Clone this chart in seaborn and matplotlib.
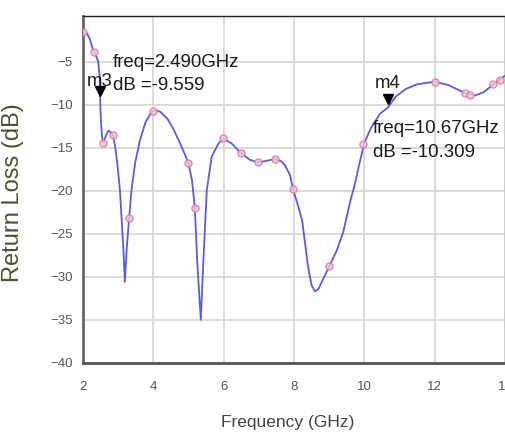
import matplotlib
matplotlib.use("Agg")
import matplotlib.pyplot as plt
import seaborn as sns
import pandas as pd
from matplotlib.ticker import MultipleLocator

# ---------------- data ----------------
freq_ghz = [2.00, 2.12, 2.20, 2.28, 2.36, 2.43, 2.47, 2.49, 2.51, 2.55, 2.58,
            2.65, 2.72, 2.80, 2.86, 2.92, 2.98, 3.05, 3.10, 3.15, 3.19, 3.24,
            3.31, 3.38, 3.48, 3.62, 3.78, 3.95, 4.05, 4.20, 4.40, 4.57, 4.72,
            4.85, 5.00, 5.10, 5.18, 5.25, 5.35, 5.42, 5.52, 5.66, 5.85, 5.99,
            6.23, 6.49, 6.75, 6.99, 7.22, 7.46, 7.62, 7.74, 7.89, 7.97, 8.10,
            8.23, 8.40, 8.50, 8.60, 8.70, 8.80, 9.00, 9.22, 9.40, 9.60, 9.70,
            9.85, 10.00, 10.20, 10.45, 10.67, 10.90, 11.20, 11.50, 12.00,
            12.40, 12.70, 12.90, 13.15, 13.40, 13.70, 13.90, 14.00]
return_loss_db = [-1.7, -1.7, -2.4, -3.5, -4.2, -4.9, -6.5, -9.56, -12.0, -14.0, -14.4,
                  -13.6, -13.0, -13.2, -13.6, -15.0, -17.0, -19.9, -23.4, -26.9, -30.6, -26.9,
                  -23.2, -19.9, -16.8, -14.1, -12.0, -10.8, -10.6, -10.8, -11.6, -12.8, -14.1,
                  -15.3, -16.8, -18.8, -22.0, -28.4, -35.0, -28.4, -19.9, -16.0, -14.5, -13.9,
                  -14.5, -15.6, -16.4, -16.7, -16.5, -16.3, -16.5, -17.0, -18.2, -19.8, -21.5,
                  -23.4, -28.8, -31.0, -31.7, -31.4, -30.5, -28.8, -26.9, -24.8, -21.2, -19.7,
                  -17.0, -14.4, -12.6, -11.0, -10.3, -9.0, -8.1, -7.6, -7.3,
                  -7.7, -8.3, -8.7, -8.9, -8.5, -7.5, -6.9, -6.6]

sym_freq = [2.00, 2.32, 2.58, 2.84, 3.31, 4.00, 5.00, 5.18, 5.99, 6.49, 6.99,
            7.46, 7.97, 9.00, 9.97, 12.00, 12.85, 13.00, 13.65, 13.85]
sym_db = [-1.5, -3.8, -14.4, -13.5, -23.2, -10.7, -16.8, -22.0, -13.9, -15.6, -16.7,
          -16.3, -19.8, -28.8, -14.6, -7.3, -8.6, -8.8, -7.6, -7.1]

marker_names = ["m3", "m4"]
marker_freq = [2.490, 10.67]
marker_db = [-9.559, -10.309]
marker_freq_text = ["freq=2.490GHz", "freq=10.67GHz"]
marker_db_text = ["dB =-9.559", "dB =-10.309"]

x_ticks = [2, 4, 6, 8, 10, 12, 14]
y_ticks = [-40, -35, -30, -25, -20, -15, -10, -5]

# ---------------- style ----------------
sns.set_style("white")
plt.rcParams["font.family"] = ["Liberation Sans", "DejaVu Sans"]

fig = plt.figure(figsize=(5.06, 4.36), dpi=100)
ax = fig.add_axes([83 / 506, 1 - 362.7 / 436, 422 / 506, (362.7 - 16) / 436])

curve = pd.DataFrame({"freq": freq_ghz, "db": return_loss_db})
syms = pd.DataFrame({"freq": sym_freq, "db": sym_db})

sns.lineplot(data=curve, x="freq", y="db", ax=ax, color="#5c5ce0",
             linewidth=1.3, estimator=None, zorder=3)
sns.scatterplot(data=syms, x="freq", y="db", ax=ax, marker="o", s=26,
                facecolor="#f4c4d2", edgecolor="#d8809e", linewidth=1.0,
                alpha=0.85, zorder=4)

ax.set_xlim(2, 14)
ax.set_ylim(-40, 0.35)
ax.set_xticks(x_ticks)
ax.set_yticks(y_ticks)
ax.xaxis.set_minor_locator(MultipleLocator(1))
ax.grid(True, which="major", color="#d6d6d0", linewidth=1.2, zorder=0)
ax.set_axisbelow(True)

ax.tick_params(axis="x", which="major", direction="out", length=7, width=1.3,
               color="#666666", labelsize=9.5, labelcolor="#555555", pad=6)
ax.tick_params(axis="x", which="minor", direction="out", length=3.5, width=1.0,
               color="#888888")
ax.tick_params(axis="y", which="major", direction="out", length=6, width=1.3,
               color="#666666", labelsize=9.5, labelcolor="#555555", pad=1.5)

for side, (c, w) in {"left": ("#666666", 2.0), "bottom": ("#555555", 2.0),
                     "top": ("#222222", 1.0), "right": ("#999999", 1.0)}.items():
    ax.spines[side].set_visible(True)
    ax.spines[side].set_color(c)
    ax.spines[side].set_linewidth(w)

ax.set_xlabel("Frequency (GHz)", fontsize=12.5, color="#444444")
ax.xaxis.set_label_coords(0.486, -0.152)
ax.set_ylabel("Return Loss (dB)", fontsize=17, color="#4f4f38")
ax.yaxis.set_label_coords(-0.14, 0.49)

# ---------------- marker annotations ----------------
ann = dict(fontsize=13.4, color="#1a1a1a", va="baseline", ha="left", zorder=6)
# m3
ax.plot([marker_freq[0]], [marker_db[0] + 1.2], marker="v", color="black",
        markersize=7, linestyle="none", zorder=6)
ax.text(2.114, -7.83, marker_names[0], **ann)
ax.text(2.853, -5.62, marker_freq_text[0], **ann)
ax.text(2.853, -8.29, marker_db_text[0], **ann)
# m4
ax.plot([marker_freq[1]], [marker_db[1] + 0.95], marker="v", color="black",
        markersize=7, linestyle="none", zorder=6)
ax.text(10.30, -8.06, marker_names[1], **ann)
ax.text(10.245, -13.29, marker_freq_text[1], **ann)
ax.text(10.245, -16.08, marker_db_text[1], **ann)

fig.savefig("out.png", dpi=100)
